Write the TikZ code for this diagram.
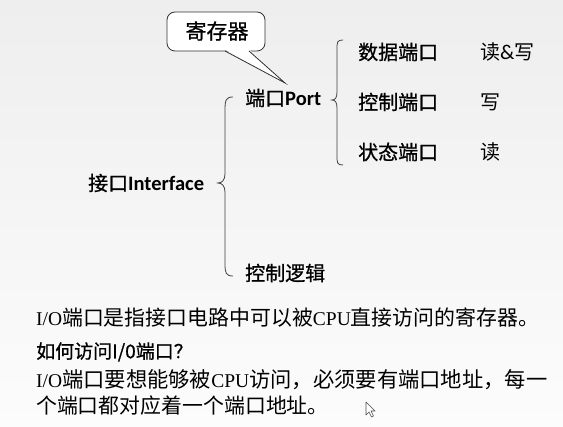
\documentclass[tikz,border=0pt]{standalone}
\usepackage{fontspec}
\setmainfont{Liberation Serif}
\newfontfamily\cjk{Noto Sans CJK SC}
\newfontfamily\cjkb[FakeBold=0.8]{Noto Sans CJK SC}
\newfontfamily\calb{Carlito}
\tikzset{
  lbl/.style={anchor=west, inner sep=0pt, font=\cjkb\fontsize{20}{22}\selectfont},
  item/.style={anchor=west, inner sep=0pt, font=\cjkb\fontsize{20}{22}\selectfont},
  para/.style={anchor=west, inner sep=0pt},
  callout/.style={draw=black!80, line width=0.8pt, rounded corners=8pt, fill=white},
  bracestyle/.style={draw=black!75, line width=0.8pt},
}
\begin{document}
\begin{tikzpicture}[x=1pt,y=-1pt]
\shade[top color={rgb,255:red,238;green,238;blue,238}, bottom color={rgb,255:red,252;green,252;blue,252}] (0,0) rectangle (563,427);
\useasboundingbox (0,0) rectangle (563,427);

% callout
\draw[callout] (167,12) rectangle (265,51);
\node[inner sep=0pt, font=\cjkb\fontsize{21}{24}\selectfont] (reg) at (217,31) {寄存器};
\coordinate (tailL) at (225,51);
\coordinate (tailR) at (249,51);
\fill[white] (225,49.5) -- (285,83) -- (249,49.5) -- cycle;
\draw[black!80, line width=0.8pt] (tailL) -- (285,83) coordinate (tip) -- (tailR);

% port
\node[lbl] (port) at (245,98) {端口{\calb\bfseries\fontsize{20.5}{22}\selectfont Port}};
% port brace
\coordinate (pbt) at (343,40);
\coordinate (pbb) at (343,165);
\coordinate (pbm) at (332,100);
\draw[bracestyle] (pbt) .. controls (337,40) and (337,42) .. (337,50) -- (337,92) .. controls (337,98) and (335,100) .. (pbm) .. controls (335,100) and (337,102) .. (337,108) -- (337,155) .. controls (337,163) and (337,165) .. (pbb);

\node[item] (d1) at (358,52) {数据端口};
\node[item] (d2) at (358,102) {控制端口};
\node[item] (d3) at (358,152) {状态端口};
\node[item, font=\cjk\fontsize{20}{22}\selectfont] (r1) at (480,52) {读{\calb\fontsize{21}{22}\selectfont\&}写};
\node[item, font=\cjk\fontsize{20}{22}\selectfont] (r2) at (480,102) {写};
\node[item, font=\cjk\fontsize{20}{22}\selectfont] (r3) at (480,152) {读};

% interface
\node[lbl] (intf) at (88,183) {接口{\calb\bfseries\fontsize{20.5}{22}\selectfont Interface}};
\coordinate (ibt) at (233,97);
\coordinate (ibb) at (233,276);
\coordinate (ibm) at (218,183);
\draw[bracestyle] (ibt) .. controls (226,97) and (225,100) .. (225,110) -- (225,174) .. controls (225,180) and (222,183) .. (ibm) .. controls (222,183) and (225,186) .. (225,192) -- (225,264) .. controls (225,273) and (226,276) .. (ibb);

\node[lbl] (logic) at (245,273) {控制逻辑};

% paragraph
\node[para] (p1) at (36,318) {\fontsize{19.5}{22}\selectfont I/O{\cjk\fontsize{20.9}{24}\selectfont 端口是指接口电路中可以被}CPU{\cjk\fontsize{20.9}{24}\selectfont 直接访问的寄存器。}};
\node[para, font=\cjkb\fontsize{19}{22}\selectfont] (p2) at (36,352) {如何访问I/0端口？};
\node[para] (p3) at (36,380) {\fontsize{19.5}{22}\selectfont I/O{\cjk\fontsize{21.3}{24}\selectfont 端口要想能够被}CPU{\cjk\fontsize{21.3}{24}\selectfont 访问，必须要有端口地址，每一}};
\node[para] (p4) at (36,406) {\cjk\fontsize{20.9}{24}\selectfont 个端口都对应着一个端口地址。};

% mouse cursor
\draw[black!70, fill=white, line width=0.6pt, line join=round] (366,402) coordinate (cur) -- (366,415) -- (369,412) -- (371.5,417) -- (373.5,416) -- (371,411) -- (375,411) -- cycle;
\end{tikzpicture}
\end{document}
